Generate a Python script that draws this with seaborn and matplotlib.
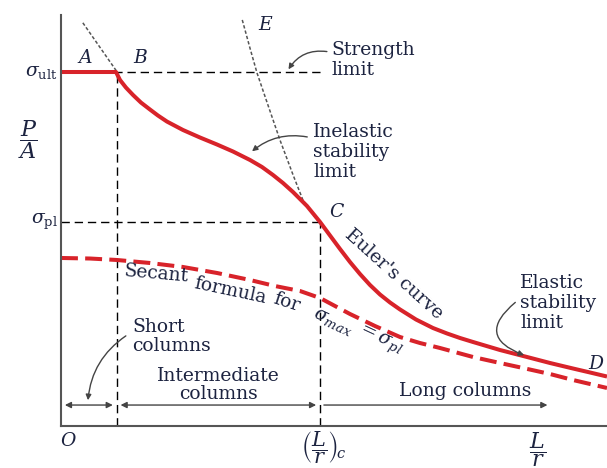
import matplotlib
matplotlib.use("Agg")
import matplotlib.pyplot as plt
import seaborn as sns
import pandas as pd

# ---- data (x = L/r, y = P/A, arbitrary units 0-100) ----
stab_x = [0, 10.07, 10.81, 11.90, 13.19, 14.65, 16.30, 17.77, 19.41, 22.34, 25.46,
          28.57, 31.50, 34.62, 36.81, 38.83, 40.66, 42.49, 45.05, 47.44, 49.27,
          51.10, 52.93, 54.76, 56.59, 58.42, 60.26, 62.09, 65.02, 68.13,
          70.70, 73.08, 75.46, 80.40, 85.35, 89.56, 93.77, 96.89, 100]
stab_y = [86.13, 86.13, 84.18, 82.34, 80.54, 78.69, 77.00, 75.53, 74.07, 72.02, 70.19,
          68.49, 66.79, 64.72, 63.02, 61.07, 59.12, 56.93, 53.53, 49.64, 46.35,
          43.07, 39.90, 36.98, 34.31, 32.00, 30.05, 28.35, 25.91, 23.84,
          22.51, 21.41, 20.44, 18.49, 16.79, 15.33, 13.99, 13.02, 12.04]
sec_x = [0, 5.31, 10.26, 16.30, 22.34, 28.57, 34.62, 39.19, 43.77, 47.44, 50.18,
         52.93, 57.51, 62.09, 65.75, 69.41, 75.46, 80.40, 84.62, 89.56, 93.77, 96.89, 100]
sec_y = [40.88, 40.75, 40.39, 39.66, 38.69, 37.23, 35.52, 34.06, 32.85, 31.14, 29.20,
         27.25, 24.33, 21.65, 20.19, 18.98, 16.79, 15.33, 14.11, 12.65, 11.19, 10.22, 9.25]
euler_x = [33.2, 34.6, 35.9, 37.9, 40.1, 42.5, 44.3, 45.6, 47.0]
euler_y = [98.8, 92.0, 85.9, 78.1, 69.6, 61.1, 55.0, 52.4, 50.0]
left_x = [4.0, 7.1, 10.3]
left_y = [98.1, 92.2, 86.1]

sigma_ult = 86.13
sigma_pl = 49.64
x_B = 10.2
x_C = 47.44

RED = "#d8232a"
TXT = "#1c2340"
GRAY = "#444444"

sns.set_style("white")
plt.rcParams["font.family"] = ["DejaVu Serif"]
plt.rcParams["mathtext.fontset"] = "dejavuserif"

fig = plt.figure(figsize=(6.07, 4.68), dpi=100)
ax = fig.add_axes([61 / 607, 42 / 468, 546 / 607, 411 / 468])
ax.set_xlim(0, 100)
ax.set_ylim(0, 100)

df_stab = pd.DataFrame({"x": stab_x, "y": stab_y})
df_sec = pd.DataFrame({"x": sec_x, "y": sec_y})
df_eul = pd.DataFrame({"x": euler_x, "y": euler_y})
df_left = pd.DataFrame({"x": left_x, "y": left_y})

# thin dashed Euler hyperbola pieces
sns.lineplot(data=df_eul, x="x", y="y", ax=ax, color="#555555", lw=1.1,
             linestyle=(0, (2.2, 1.4)), sort=False, estimator=None)
sns.lineplot(data=df_left, x="x", y="y", ax=ax, color="#555555", lw=1.1,
             linestyle=(0, (2.2, 1.4)), sort=False, estimator=None)

# reference dashed black lines
dk = dict(color="black", lw=1.0, linestyle=(0, (6, 3.5)))
ax.plot([0, 48.0], [sigma_ult, sigma_ult], **dk)
ax.plot([0, x_C], [sigma_pl, sigma_pl], **dk)
ax.plot([x_B, x_B], [0, sigma_ult], **dk)
ax.plot([x_C, x_C], [0, sigma_pl], **dk)

# red curves
sns.lineplot(data=df_sec, x="x", y="y", ax=ax, color=RED, lw=2.9,
             linestyle=(0, (4.2, 1.8)), sort=False, estimator=None)
sns.lineplot(data=df_stab, x="x", y="y", ax=ax, color=RED, lw=2.9,
             sort=False, estimator=None, solid_capstyle="butt", solid_joinstyle="round")

ax.set_xlabel("")
ax.set_ylabel("")
ax.set_xticks([])
ax.set_yticks([])
for s in ["top", "right"]:
    ax.spines[s].set_visible(False)
for s in ["left", "bottom"]:
    ax.spines[s].set_color("#555555")
    ax.spines[s].set_linewidth(1.5)

fs = 13.5
# axis labels
ax.text(-0.6, sigma_ult, r"$\sigma_{\rm ult}$", ha="right", va="center", fontsize=fs, color=TXT, clip_on=False)
ax.text(-0.6, sigma_pl, r"$\sigma_{\rm pl}$", ha="right", va="center", fontsize=fs, color=TXT, clip_on=False)
ax.text(-6.0, 69.6, r"$\dfrac{P}{A}$", ha="center", va="center", fontsize=16, color=TXT, clip_on=False)
ax.text(1.3, -3.6, r"$O$", ha="center", va="center", fontsize=fs, color=TXT, clip_on=False, fontweight="bold")
ax.text(x_C + 0.6, -0.9, r"$\left(\dfrac{L}{r}\right)_{\!c}$", ha="center", va="top", fontsize=15, color=TXT, clip_on=False)
ax.text(87.2, -0.9, r"$\dfrac{L}{r}$", ha="center", va="top", fontsize=16, color=TXT, clip_on=False)

# point labels
for lab, px, py in [("A", 4.4, 89.6), ("B", 14.5, 89.6), ("E", 37.6, 97.6),
                    ("C", 50.6, 52.0), ("D", 98.1, 15.2)]:
    ax.text(px, py, "$" + lab + "$", ha="center", va="center", fontsize=fs, color=TXT, clip_on=False)

# annotations
ax.text(49.6, 89.1, "Strength\nlimit", ha="left", va="center", fontsize=fs, color=TXT, linespacing=1.15)
ax.text(46.2, 66.7, "Inelastic\nstability\nlimit", ha="left", va="center", fontsize=fs, color=TXT, linespacing=1.15)
ax.text(84.1, 29.9, "Elastic\nstability\nlimit", ha="left", va="center", fontsize=fs, color=TXT, linespacing=1.15)
ax.text(13.0, 21.7, "Short\ncolumns", ha="left", va="center", fontsize=fs, color=TXT, linespacing=1.05)
ax.text(28.8, 10.0, "Intermediate\ncolumns", ha="center", va="center", fontsize=fs, color=TXT, linespacing=1.05)
ax.text(74.0, 8.6, "Long columns", ha="center", va="center", fontsize=fs, color=TXT)

ax.text(61.0, 37.0, "Euler's curve", ha="center", va="center", fontsize=fs, color=TXT, rotation=-42)
ax.text(17.4, 37.0, "Secant", ha="center", va="center", fontsize=fs, color=TXT, rotation=-5)
ax.text(31.0, 33.0, "formula", ha="center", va="center", fontsize=fs, color=TXT, rotation=-12)
ax.text(41.4, 30.0, "for", ha="center", va="center", fontsize=fs, color=TXT, rotation=-18)
ax.text(49.8, 25.3, r"$\sigma_{max}$", ha="center", va="center", fontsize=fs, color=TXT, rotation=-25)
ax.text(58.2, 20.8, r"$=\sigma_{pl}$", ha="center", va="center", fontsize=fs, color=TXT, rotation=-25)

arrow_kw = dict(arrowstyle="-|>", color=GRAY, lw=1.0, mutation_scale=8)
ax.annotate("", xy=(41.4, 86.2), xytext=(49.2, 91.0),
            arrowprops=dict(connectionstyle="arc3,rad=0.35", **arrow_kw))
ax.annotate("", xy=(34.6, 66.4), xytext=(45.6, 70.2),
            arrowprops=dict(connectionstyle="arc3,rad=0.25", **arrow_kw))
ax.annotate("", xy=(85.3, 17.0), xytext=(83.6, 30.5),
            arrowprops=dict(connectionstyle="arc3,rad=0.9", **arrow_kw))
ax.annotate("", xy=(4.9, 5.6), xytext=(12.3, 22.3),
            arrowprops=dict(connectionstyle="arc3,rad=0.25", **arrow_kw))

# dimension arrows
dim_y = 5.1
dim_kw = dict(color=GRAY, lw=1.0, mutation_scale=9)
ax.annotate("", xy=(0.2, dim_y), xytext=(x_B - 0.2, dim_y), arrowprops=dict(arrowstyle="<|-|>", **dim_kw))
ax.annotate("", xy=(x_B + 0.2, dim_y), xytext=(x_C - 0.2, dim_y), arrowprops=dict(arrowstyle="<|-|>", **dim_kw))
ax.annotate("", xy=(x_C + 0.2, dim_y), xytext=(89.6, dim_y), arrowprops=dict(arrowstyle="<|-", **dim_kw))

fig.savefig("out.png", dpi=100)
